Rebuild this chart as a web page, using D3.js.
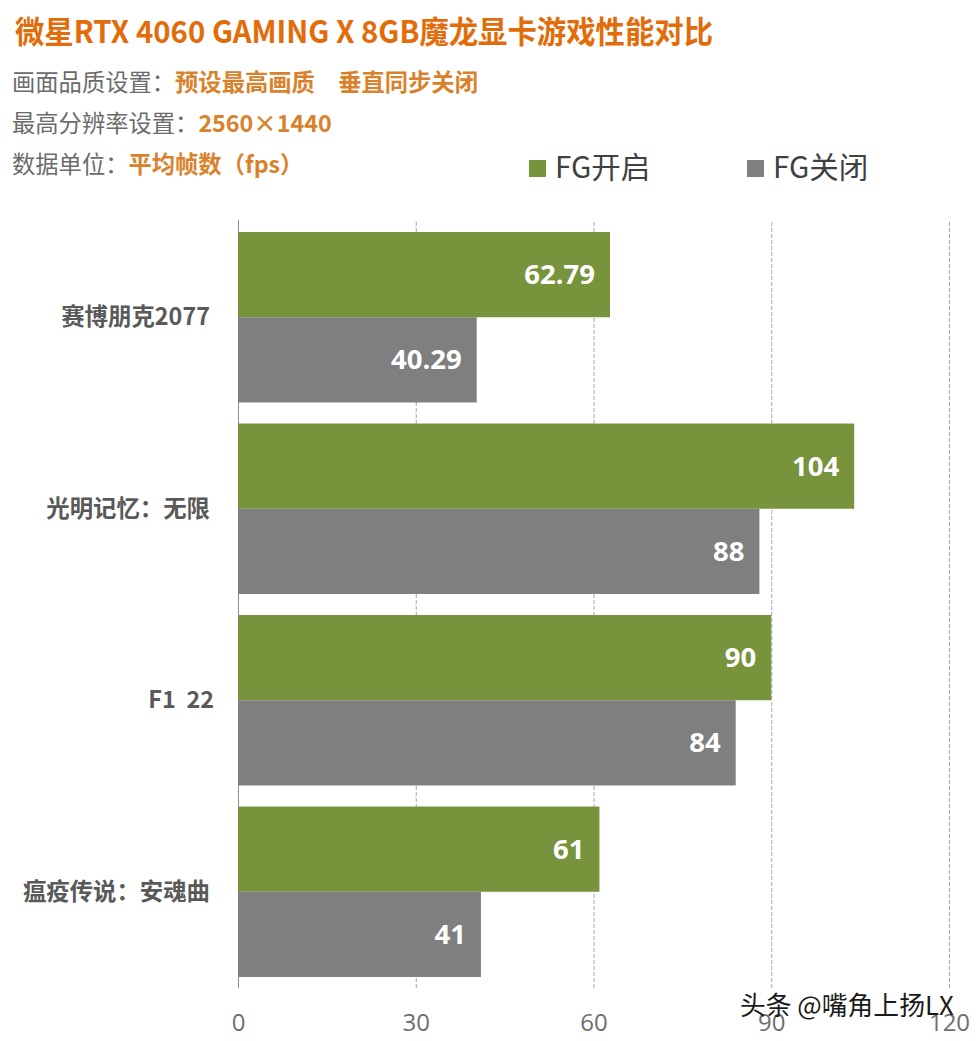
<!DOCTYPE html>
<html><head><meta charset="utf-8">
<script src="https://cdn.jsdelivr.net/npm/d3@7"></script>
<style>
html,body{margin:0;padding:0;background:#fff}
svg{display:block}
text{font-family:"Noto Sans CJK SC","Noto Sans",sans-serif;white-space:pre}
</style></head><body>
<svg id="c" width="976" height="1041"></svg>
<script>
const categories=["赛博朋克2077","光明记忆：无限","F1  22","瘟疫传说：安魂曲"];
const seriesNames=["FG开启","FG关闭"];
const fgOn=[62.79,104,90,61];
const fgOff=[40.29,88,84,41];
const xTicks=[0,30,60,90,120];
const seriesColors=["#77933c","#7f7f7f"];
const svg=d3.select("#c");
const x=d3.scaleLinear().domain([0,120]).range([238,949]);
const y=d3.scaleBand().domain(categories).range([221.5,987.5]).paddingInner(.11).paddingOuter(.055);
const y2=d3.scaleBand().domain(seriesNames).range([0,y.bandwidth()]);

// grid + axis
const axis=svg.append("g").attr("transform","translate(0,988)")
  .call(d3.axisBottom(x).tickValues(xTicks).tickSize(-768).tickFormat(d3.format("d")).tickPadding(26));
axis.select(".domain").remove();
axis.selectAll("line").attr("stroke","#a6a6a6").attr("stroke-width",1).attr("stroke-dasharray","4 2");
axis.selectAll("text").attr("fill","#6e6e6e").style("font-size","24px").style("font-family","'Open Sans',sans-serif").attr("dy","0.35em").attr("y",35);
axis.selectAll(".tick").filter(d=>d===0).select("line").attr("stroke","#8c8c8c").attr("stroke-dasharray",null);

// bars
const rows=categories.map((c,i)=>({c,vals:[fgOn[i],fgOff[i]]}));
const groups=svg.append("g").selectAll("g").data(rows).join("g").attr("transform",d=>`translate(0,${y(d.c)})`);
groups.each(function(d){
  const g=d3.select(this);
  seriesNames.forEach((s,i)=>{
    g.append("rect").attr("x",x(0)).attr("y",y2(s)).attr("width",x(d.vals[i])-x(0)).attr("height",y2.bandwidth()).attr("fill",seriesColors[i]);
    g.append("text").attr("x",x(d.vals[i])-15).attr("y",y2(s)+y2.bandwidth()/2).attr("dy","0.35em")
     .attr("text-anchor","end").attr("fill","#fff").attr("font-weight",700).style("font-size","27.5px").style("font-family","'Open Sans',sans-serif").text(d.vals[i]);
  });
  g.append("text").attr("x",d.c.startsWith("F1")?214:210).attr("y",y.bandwidth()/2).attr("dy","0.35em")
   .attr("text-anchor","end").attr("fill","#595959").attr("font-weight",700).style("font-size","23.4px").text(d.c);
});

// title
svg.append("text").attr("x",15).attr("y",43).attr("fill","#e36c0a").attr("font-weight",700).style("font-size","31px").text("微星RTX 4060 GAMING X 8GB魔龙显卡游戏性能对比").attr("textLength",698).attr("lengthAdjust","spacingAndGlyphs");
const sub=[["画面品质设置：","预设最高画质　垂直同步关闭",91],["最高分辨率设置：","2560×1440",132],["数据单位：","平均帧数（fps）",173]];
sub.forEach(([a,b,yy])=>{
  const t=svg.append("text").attr("x",12).attr("y",yy).style("font-size","23.3px");
  t.append("tspan").attr("fill","#6b6b6b").text(a);
  t.append("tspan").attr("fill","#d9822b").attr("font-weight",700).text(b);
});
// legend
const lx=[529,747];
seriesNames.forEach((s,i)=>{
  svg.append("rect").attr("x",lx[i]).attr("y",160).attr("width",17).attr("height",17).attr("fill",seriesColors[i]);
  svg.append("text").attr("x",lx[i]+26).attr("y",178).attr("fill","#404040").style("font-size","29.5px").text(s);
});
// watermark
svg.append("text").attr("x",740).attr("y",1015).attr("fill","#1a1a1a").style("font-size","25.8px").text("头条 @嘴角上扬LX");
</script></body></html>
